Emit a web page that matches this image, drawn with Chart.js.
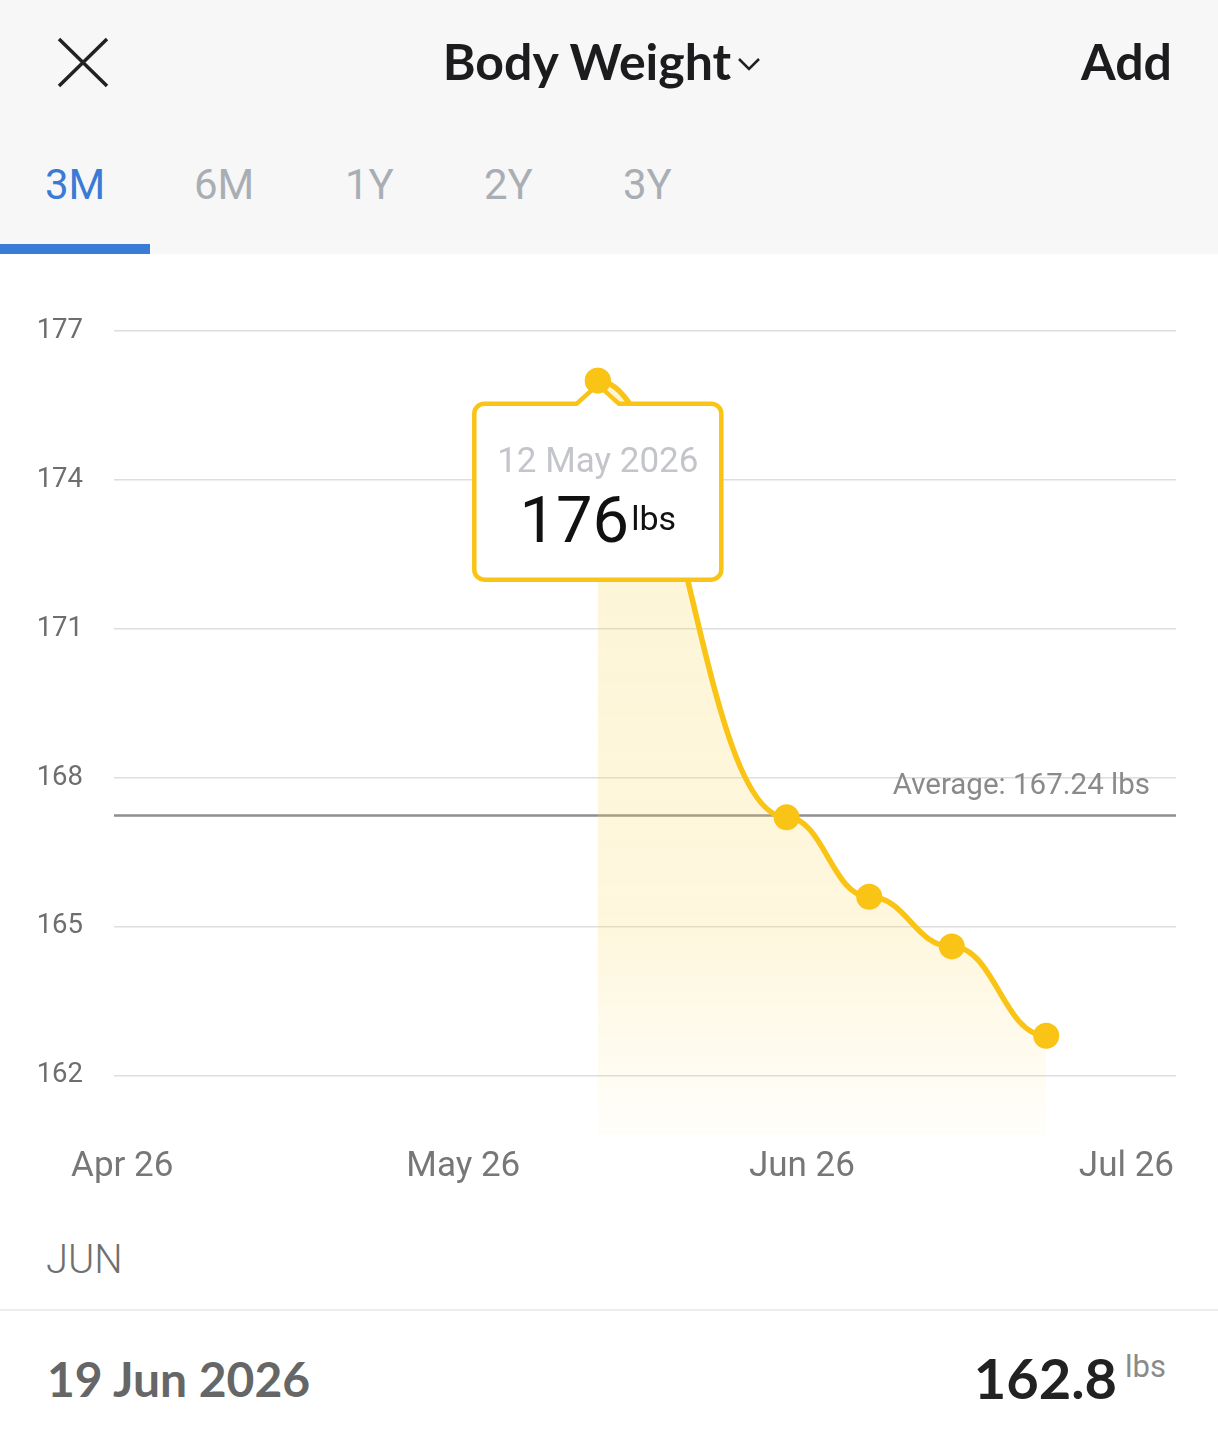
<!DOCTYPE html>
<html>
<head>
<meta charset="utf-8">
<script src="https://cdn.jsdelivr.net/npm/chart.js@4.4.1/dist/chart.umd.min.js"></script>
<style>
  html, body { margin: 0; padding: 0; background: #fff; }
  body { width: 1218px; height: 1440px; position: relative; overflow: hidden; font-family: Roboto, "Noto Sans", sans-serif; }
  .header { position: absolute; left: 0; top: 0; width: 1218px; height: 254px; background: #f7f7f7; }
  .title { position: absolute; top: 31px; left: -6px; width: 1218px; text-align: center; font-family: Lato, "Noto Sans", sans-serif; font-weight: 700; font-size: 50px; color: #1c1c1e; }
  .title svg { vertical-align: middle; margin-left: 6px; margin-top: -6px; }
  .add { position: absolute; top: 31px; right: 46px; font-family: Lato, "Noto Sans", sans-serif; font-weight: 700; font-size: 50px; color: #1c1c1e; }
  .close { position: absolute; left: 56px; top: 36px; }
  .tab { position: absolute; top: 160px; font-size: 42px; color: #a9aeb5; }
  .tab.on { color: #3a7bd5; }
  .bar { position: absolute; left: 0; top: 244px; width: 150px; height: 10px; background: #3a7bd5; }
  #wrap { position: absolute; left: 0; top: 255px; width: 1218px; height: 950px; }
  .month { position: absolute; left: 46px; top: 1236px; font-size: 40px; font-weight: 300; color: #707070; }
  .divider { position: absolute; left: 0; top: 1309px; width: 1218px; height: 2px; background: #ececec; }
  .date { position: absolute; left: 47px; top: 1350px; font-family: Lato, "Noto Sans", sans-serif; font-weight: 700; font-size: 48px; color: #666; }
  .val { position: absolute; right: 52px; top: 1344px; font-family: Lato, "Noto Sans", sans-serif; font-weight: 700; font-size: 56px; color: #222; }
  .val sup { font-family: Roboto, sans-serif; font-weight: 400; font-size: 31px; color: #8a8a8a; margin-left: 8px; vertical-align: 22px; }
</style>
</head>
<body>
<div class="header">
  <svg class="close" width="56" height="54"><path d="M3 3 L51 50 M51 3 L3 50" stroke="#222" stroke-width="3.5" fill="none"/></svg>
  <div class="title">Body Weight<svg width="26" height="16"><path d="M2 3 L12 13 L22 3" stroke="#222" stroke-width="2.5" fill="none"/></svg></div>
  <div class="add">Add</div>
  <div class="tab on" style="left:45px">3M</div>
  <div class="tab" style="left:194px">6M</div>
  <div class="tab" style="left:345px">1Y</div>
  <div class="tab" style="left:484px">2Y</div>
  <div class="tab" style="left:623px">3Y</div>
  <div class="bar"></div>
</div>
<div id="wrap"><canvas id="chart"></canvas></div>
<div class="month">JUN</div>
<div class="divider"></div>
<div class="date">19 Jun 2026</div>
<div class="val">162.8<sup>lbs</sup></div>

<script>
// entries (day of year 2026) and weights in lbs
var entryDates = ["12 May 2026", "28 May 2026", "4 Jun 2026", "11 Jun 2026", "19 Jun 2026"];
var entryDays = [132, 148, 155, 162, 170];
var weights = [176, 167.2, 165.6, 164.6, 162.8];

var xTickDays = [91.7, 120.6, 149.3, 176.8];
var xTickLabels = ["Apr 26", "May 26", "Jun 26", "Jul 26"];
var yTicks = [162, 165, 168, 171, 174, 177];

var lineColor = "#f9c416";
var selected = 0;

var avg = weights.reduce(function(a, b) { return a + b; }, 0) / weights.length;

var points = entryDays.map(function(d, i) { return {x: d, y: weights[i]}; });

// flat tangents at every point, like the app draws it
var flatCurve = {
    id: "flatCurve",
    beforeDraw: function(chart) {
        var meta = chart.getDatasetMeta(0);
        meta.dataset.updateControlPoints(chart.chartArea);
        var pts = meta.data;
        for (var i = 0; i < pts.length; i++) {
            var p = pts[i];
            var prev = pts[i - 1] || p;
            var next = pts[i + 1] || p;
            p.cp1x = p.x - (p.x - prev.x) * 0.45;
            p.cp1y = p.y;
            p.cp2x = p.x + (next.x - p.x) * 0.45;
            p.cp2y = p.y;
        }
        meta.dataset._path = undefined;
    }
};

var averageLine = {
    id: "averageLine",
    beforeDatasetsDraw: function(chart) {
        var ctx = chart.ctx, area = chart.chartArea;
        var y = chart.scales.y.getPixelForValue(avg);
        ctx.save();
        ctx.strokeStyle = "#8e8e93";
        ctx.lineWidth = 2.5;
        ctx.beginPath();
        ctx.moveTo(area.left, y);
        ctx.lineTo(area.right, y);
        ctx.stroke();
        ctx.fillStyle = "#8a8a8a";
        ctx.font = "29.5px Roboto, 'Noto Sans', sans-serif";
        ctx.textAlign = "right";
        ctx.textBaseline = "alphabetic";
        ctx.fillText("Average: " + avg.toFixed(2) + " lbs", area.right - 26, y - 21);
        ctx.restore();
    }
};

var callout = {
    id: "callout",
    afterDraw: function(chart) {
        var ctx = chart.ctx;
        var pt = chart.getDatasetMeta(0).data[selected];
        var cx = pt.x, w = 247, h = 176, r = 10;
        var left = cx - w / 2, top = pt.y + 23, right = left + w, bottom = top + h;
        ctx.save();
        ctx.beginPath();
        ctx.moveTo(left + r, top);
        ctx.lineTo(cx - 21, top);
        ctx.lineTo(cx, pt.y + 4);
        ctx.lineTo(cx + 21, top);
        ctx.lineTo(right - r, top);
        ctx.arcTo(right, top, right, top + r, r);
        ctx.lineTo(right, bottom - r);
        ctx.arcTo(right, bottom, right - r, bottom, r);
        ctx.lineTo(left + r, bottom);
        ctx.arcTo(left, bottom, left, bottom - r, r);
        ctx.lineTo(left, top + r);
        ctx.arcTo(left, top, left + r, top, r);
        ctx.closePath();
        ctx.fillStyle = "#fff";
        ctx.fill();
        ctx.strokeStyle = lineColor;
        ctx.lineWidth = 4.5;
        ctx.lineJoin = "round";
        ctx.stroke();

        // dot on top of the pointer
        ctx.beginPath();
        ctx.arc(pt.x, pt.y, 13, 0, Math.PI * 2);
        ctx.fillStyle = lineColor;
        ctx.fill();

        ctx.textBaseline = "alphabetic";
        ctx.textAlign = "center";
        ctx.fillStyle = "#c3c5ca";
        ctx.font = "35px Roboto, 'Noto Sans', sans-serif";
        ctx.fillText(entryDates[selected], cx, top + 68);

        var big = "65px Roboto, 'Noto Sans', sans-serif";
        var small = "34px Roboto, 'Noto Sans', sans-serif";
        var num = String(weights[selected]);
        ctx.font = big;
        var wn = ctx.measureText(num).width;
        ctx.font = small;
        var wu = ctx.measureText("lbs").width;
        var sx = cx - (wn + 2 + wu) / 2;
        ctx.textAlign = "left";
        ctx.fillStyle = "#111";
        ctx.font = big;
        ctx.fillText(num, sx, top + 138);
        ctx.font = small;
        ctx.fillText("lbs", sx + wn + 2, top + 126);
        ctx.restore();
    }
};

new Chart(document.getElementById("chart"), {
    type: "line",
    data: {
        datasets: [{
            data: points,
            borderColor: lineColor,
            borderWidth: 5.5,
            tension: 0.4,
            pointRadius: 13,
            pointBackgroundColor: lineColor,
            pointBorderWidth: 0,
            fill: "start",
            backgroundColor: function(context) {
                var area = context.chart.chartArea;
                if (!area) return "rgba(250,215,90,0.22)";
                var g = context.chart.ctx.createLinearGradient(0, area.top, 0, area.bottom);
                g.addColorStop(0, "rgba(250,215,90,0.27)");
                g.addColorStop(0.75, "rgba(250,215,90,0.2)");
                g.addColorStop(1, "rgba(250,215,90,0.03)");
                return g;
            }
        }]
    },
    options: {
        responsive: true,
        maintainAspectRatio: false,
        animation: false,
        events: [],
        layout: { padding: { top: 76, right: 42, left: 0, bottom: 0 } },
        plugins: { legend: { display: false }, tooltip: { enabled: false } },
        scales: {
            x: {
                type: "linear",
                min: 91,
                max: 181,
                afterFit: function(s) { s.height = 70; },
                afterBuildTicks: function(s) {
                    s.ticks = xTickDays.map(function(v) { return {value: v}; });
                },
                ticks: {
                    autoSkip: false,
                    maxRotation: 0,
                    padding: 3,
                    color: "#777",
                    font: { family: "Roboto, 'Noto Sans', sans-serif", size: 35 },
                    callback: function(v) { return xTickLabels[xTickDays.indexOf(v)]; }
                },
                grid: { display: false },
                border: { display: false }
            },
            y: {
                min: 160.8,
                max: 177,
                afterFit: function(s) { s.width = 114; },
                afterBuildTicks: function(s) {
                    s.ticks = yTicks.map(function(v) { return {value: v}; });
                },
                ticks: {
                    padding: 31,
                    color: "#6e6e6e",
                    font: { family: "Roboto, 'Noto Sans', sans-serif", size: 27.5 }
                },
                grid: { color: "#dedede", lineWidth: 1.5, drawTicks: false },
                border: { display: false }
            }
        }
    },
    plugins: [flatCurve, averageLine, callout]
});
</script>
</body>
</html>
